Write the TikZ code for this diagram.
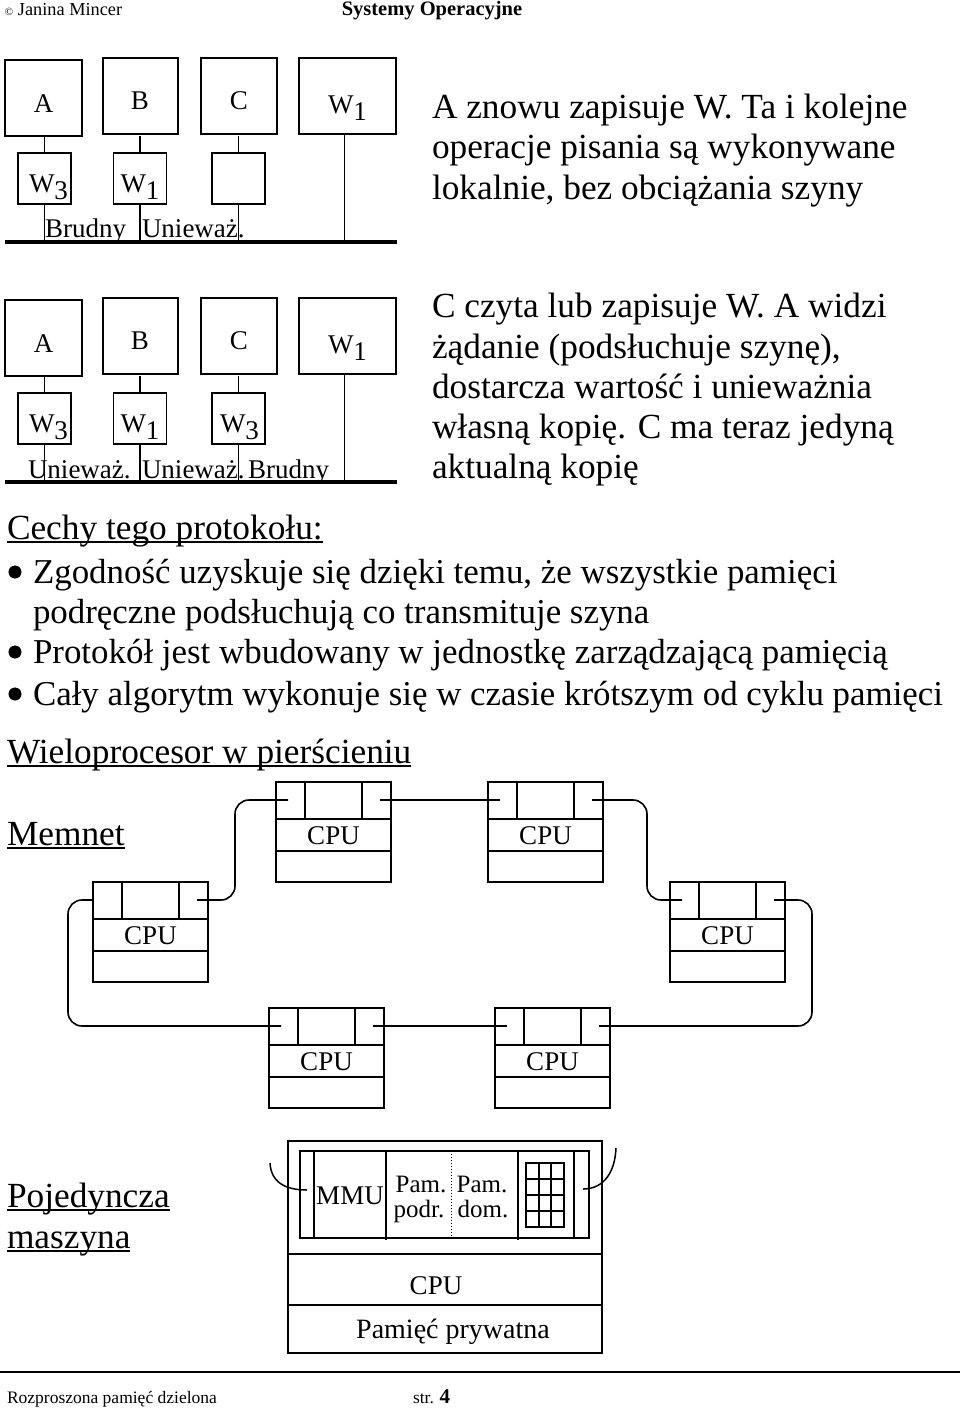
\documentclass[tikz,border=0pt]{standalone}
\usepackage{fontspec}
\setmainfont{Liberation Serif}
\newcommand\myul[1]{\setbox0\hbox{#1}\rlap{\rule[-4pt]{\wd0}{1.6pt}}\box0}
\newcommand\lowdigit[1]{\raisebox{-7pt}{#1}}
\begin{document}
\begin{tikzpicture}[x=1pt,y=-1pt,
  every node/.style={inner sep=0pt,outer sep=0pt},
  txt/.style={anchor=base west,font=\fontsize{35.3}{40}\selectfont},
  btxt/.style={anchor=base west,font=\fontsize{34.9}{40}\selectfont},
  lbl/.style={anchor=base,font=\fontsize{27}{30}\selectfont},
  lbll/.style={anchor=base west,font=\fontsize{27}{30}\selectfont},
  smalltxt/.style={anchor=base,font=\fontsize{25}{28}\selectfont},
  bigbox/.style={draw,line width=1.8pt,minimum height=76pt},
  smallbox/.style={draw,line width=1.8pt,minimum width=53pt,minimum height=51pt},
  wire/.style={line width=1.5pt},
  bus/.style={line width=4pt},
  boxl/.style={line width=1.8pt},
  ring/.style={line width=1.6pt,rounded corners=14pt},
  bullet/.style={circle,fill,draw,minimum size=12.5pt},
  cpunode/.pic={
    \draw[boxl] (0,0) rectangle (115,100);
    \draw[boxl] (0,37) -- (115,37) (0,69) -- (115,69) (29,0) -- (29,37) (86,0) -- (86,37);
    \node[anchor=center,font=\fontsize{27}{30}\selectfont] (-cpu) at (57.5,54) {CPU};
    \coordinate (-l) at (12,18);
    \coordinate (-r) at (104,18);
    \coordinate (-w) at (0,18);
  }]
\useasboundingbox (0,0) rectangle (960,1408);

% header
\node[anchor=base west,font=\fontsize{18.3}{20}\selectfont] (hdl) at (5,15) {{\fontsize{11}{11}\selectfont ©} Janina Mincer};
\node[anchor=base,font=\fontsize{20.5}{22}\selectfont\bfseries] (hdc) at (432,15) {Systemy Operacyjne};

% ---------- diagram 1 ----------
\node[bigbox,minimum width=77pt] (A1) at (43.5,98) {};
\node[bigbox,minimum width=75pt] (B1) at (140.5,96) {};
\node[bigbox,minimum width=76pt] (C1) at (239,96) {};
\node[bigbox,minimum width=97pt] (M1) at (347.5,96) {};
\node[smallbox] (a1) at (44.5,178.5) {};
\node[smallbox] (b1) at (140,178.5) {};
\node[smallbox] (c1) at (238.5,178.5) {};
\coordinate (bus1L) at (5,242);
\coordinate (bus1R) at (397,242);
\draw[bus] (bus1L) -- (bus1R);
\foreach \s in {a1,b1,c1}{
  \draw[wire] (\s.north) -- (\s.north |- A1.south);
  \draw[wire] (\s.south) -- (\s.south |- bus1L);
}
\draw[wire] ([xshift=-3pt]M1.south) -- ([xshift=-3pt]M1.south |- bus1L);
\node[lbl] (tA1) at (43.5,112) {A};
\node[lbl] (tB1) at (140,109) {B};
\node[lbl] (tC1) at (239,109) {C};
\node[lbl] (tM1) at (347.5,113) {W\lowdigit{1}};
\node[lbl] (ta1) at (48.5,192) {W\lowdigit{3}};
\node[lbl] (tb1) at (140,192) {W\lowdigit{1}};
\node[lbll] (s11) at (45,237) {Brudny};
\node[lbll] (s12) at (142,237) {Unieważ.};

% ---------- diagram 2 ----------
\node[bigbox,minimum width=77pt] (A2) at (43.5,338) {};
\node[bigbox,minimum width=75pt] (B2) at (140.5,336) {};
\node[bigbox,minimum width=76pt] (C2) at (239,336) {};
\node[bigbox,minimum width=97pt] (M2) at (347.5,336) {};
\node[smallbox] (a2) at (44.5,418.5) {};
\node[smallbox] (b2) at (140,418.5) {};
\node[smallbox] (c2) at (238.5,418.5) {};
\coordinate (bus2L) at (5,482);
\coordinate (bus2R) at (397,482);
\draw[bus] (bus2L) -- (bus2R);
\foreach \s in {a2,b2,c2}{
  \draw[wire] (\s.north) -- (\s.north |- A2.south);
  \draw[wire] (\s.south) -- (\s.south |- bus2L);
}
\draw[wire] ([xshift=-3pt]M2.south) -- ([xshift=-3pt]M2.south |- bus2L);
\node[lbl] (tA2) at (43.5,352) {A};
\node[lbl] (tB2) at (140,349) {B};
\node[lbl] (tC2) at (239,349) {C};
\node[lbl] (tM2) at (347.5,353) {W\lowdigit{1}};
\node[lbl] (ta2) at (48.5,432) {W\lowdigit{3}};
\node[lbl] (tb2) at (140,432) {W\lowdigit{1}};
\node[lbl] (tc2) at (239.5,432) {W\lowdigit{3}};
\node[lbll] (s21) at (28,478) {Unieważ.};
\node[lbll] (s22) at (142,478) {Unieważ.};
\node[lbll] (s23) at (248,478) {Brudny};

% ---------- right texts ----------
\node[txt] (r11) at (432,118) {A znowu zapisuje W. Ta i kolejne};
\node[txt] (r12) at (432,158) {operacje pisania są wykonywane};
\node[txt] (r13) at (432,199) {lokalnie, bez obciążania szyny};
\node[txt] (r21) at (432,317) {C czyta lub zapisuje W. A widzi};
\node[txt] (r22) at (432,358) {żądanie (podsłuchuje szynę),};
\node[txt] (r23) at (432,398) {dostarcza wartość i unieważnia};
\node[txt] (r24) at (432,438) {własną kopię. C ma teraz jedyną};
\node[txt] (r25) at (432,478) {aktualną kopię};

% ---------- features ----------
\node[txt] (cechy) at (7,539) {\myul{Cechy tego protokołu:}};
\node[bullet] (bl1) at (15,572) {};
\node[btxt] (f1) at (33,583) {Zgodność uzyskuje się dzięki temu, że wszystkie pamięci};
\node[btxt] (f1b) at (33,623) {podręczne podsłuchują co transmituje szyna};
\node[bullet] (bl2) at (15,652) {};
\node[btxt] (f2) at (33,663) {Protokół jest wbudowany w jednostkę zarządzającą pamięcią};
\node[bullet] (bl3) at (15,694) {};
\node[btxt] (f3) at (33,705) {Cały algorytm wykonuje się w czasie krótszym od cyklu pamięci};

\node[txt] (wielo) at (7,763) {\myul{Wieloprocesor w pierścieniu}};
\node[txt] (memnet) at (7,845) {\myul{Memnet}};

% ---------- ring ----------
\pic (n1) at (276,782) {cpunode};
\pic (n2) at (488,782) {cpunode};
\pic (n3) at (93,882) {cpunode};
\pic (n4) at (670,882) {cpunode};
\pic (n5) at (269,1008) {cpunode};
\pic (n6) at (495,1008) {cpunode};
\draw[ring] (n3-r) -- ++(38,0) |- (n1-l);
\draw[ring] (n1-r) -- (n2-l);
\draw[ring] (n2-r) -- ++(55,0) |- (n4-l);
\draw[ring] (n4-r) -- ++(38,0) |- (n6-r);
\draw[ring] (n6-l) -- (n5-r);
\draw[ring] (n5-l) -- ++(-213,0) |- (n3-w);

% ---------- single machine ----------
\node[txt] (poj1) at (7,1207) {\myul{Pojedyncza}};
\node[txt] (poj2) at (7,1248) {\myul{maszyna}};
\node[draw,boxl,minimum width=314pt,minimum height=212pt] (sm) at (445,1247) {};
\draw[line width=2.2pt] (288,1254) -- (602,1254);
\draw[boxl] (288,1305) -- (602,1305);
\draw[boxl] (300,1151) rectangle (589,1238);
\draw[boxl] (314,1151) -- (314,1238) (386,1151) -- (386,1240) (518,1151) -- (518,1240) (574,1151) -- (574,1238);
\draw[line width=1pt,dotted] (451,1151) -- (451,1238);
\draw[line width=2.4pt] (526,1163) rectangle (564,1227);
\draw[line width=2.2pt] (538.7,1163) -- (538.7,1227) (551.3,1163) -- (551.3,1227)
  (526,1179) -- (564,1179) (526,1195) -- (564,1195) (526,1211) -- (564,1211);
\node[lbl] (mmu) at (350,1204) {MMU};
\node[smalltxt] (pp1) at (421,1192) {Pam.};
\node[smalltxt] (pp2) at (419,1217) {podr.};
\node[smalltxt] (pd1) at (482,1192) {Pam.};
\node[smalltxt] (pd2) at (483,1217) {dom.};
\node[lbl] (smcpu) at (436,1294) {CPU};
\node[anchor=base,font=\fontsize{28}{30}\selectfont] (smpp) at (453,1338) {Pamięć prywatna};
\coordinate (stubL) at (270,1163);
\coordinate (mmuL) at (307,1190);
\draw[wire] (stubL) .. controls (271,1182) and (285,1190) .. (mmuL);
\coordinate (gridR) at (583,1189);
\coordinate (stubR) at (616,1148);
\draw[wire] (gridR) .. controls (604,1189) and (615,1172) .. (stubR);

% ---------- footer ----------
\coordinate (ftL) at (0,1372);
\coordinate (ftR) at (960,1372);
\draw[line width=1.5pt] (ftL) -- (ftR);
\node[anchor=base west,font=\fontsize{17.5}{20}\selectfont] (ft1) at (7,1403) {Rozproszona pamięć dzielona};
\node[anchor=base west,font=\fontsize{17.5}{20}\selectfont] (ft2) at (413,1403) {str. {\fontsize{21}{22}\selectfont\bfseries 4}};
\end{tikzpicture}
\end{document}
